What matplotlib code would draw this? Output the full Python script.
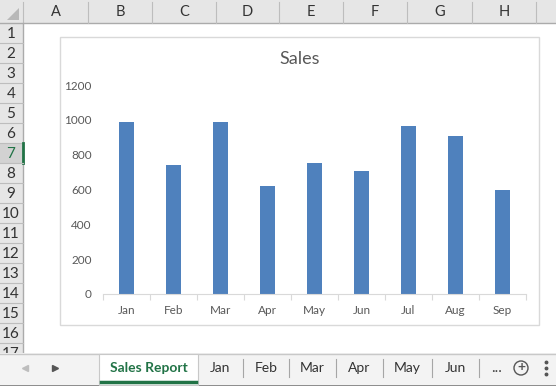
import matplotlib

matplotlib.use("Agg")
import matplotlib.pyplot as plt
from matplotlib.patches import Rectangle, Polygon, Circle

plt.rcParams["font.family"] = ["Lato", "DejaVu Sans"]

# ── data ─────────────────────────────────────────────────────────────────────
months = ["Jan", "Feb", "Mar", "Apr", "May", "Jun", "Jul", "Aug", "Sep"]
sales = [985, 740, 990, 620, 750, 705, 965, 910, 595]
y_ticks = [0, 200, 400, 600, 800, 1000, 1200]

col_letters = ["A", "B", "C", "D", "E", "F", "G", "H"]
sheet_tabs = ["Jan", "Feb", "Mar", "Apr", "May", "Jun"]

W, H = 556, 386
BAR = "#4F81BD"
TXT = "#595959"
GREEN = "#217346"
HDR = "#E6E6E6"
HDR_LINE = "#BDBDBD"

fig = plt.figure(figsize=(W / 100, H / 100), dpi=100)

# ── spreadsheet frame, in pixel coordinates ─────────────────────────────────
bg = fig.add_axes([0, 0, 1, 1])
bg.set_xlim(0, W)
bg.set_ylim(H, 0)
bg.axis("off")

# column header strip
bg.add_patch(Rectangle((0, 0), W, 23, fc=HDR, ec="none"))
bg.plot([0, W], [23, 23], color="#ABABAB", lw=1)
col_edges = [23, 88, 152, 216, 279, 343, 407, 472, 536]
for x in col_edges:
    bg.plot([x, x], [2, 23], color=HDR_LINE, lw=0.8)
for i, letter in enumerate(col_letters):
    cx = (col_edges[i] + col_edges[i + 1]) / 2
    bg.text(cx, 12.5, letter, ha="center", va="center", fontsize=10.5, color="#333333")
# corner triangle
bg.add_patch(Polygon([[19, 8], [19, 20], [7, 20]], closed=True, fc="#B8B8B8", ec="none"))

# row header strip
bg.add_patch(Rectangle((0, 23), 23, H - 23, fc=HDR, ec="none"))
bg.plot([23, 23], [23, H], color="#ABABAB", lw=1)
for r in range(1, 18):
    top = 23 + 20 * (r - 1)
    if r == 7:
        bg.add_patch(Rectangle((0, top), 23, 20, fc="#D2D2D2", ec="none"))
        bg.plot([22.5, 22.5], [top, top + 20], color=GREEN, lw=2)
    bg.plot([0, 23], [top + 20, top + 20], color=HDR_LINE, lw=0.8)
    bg.text(11, top + 10.5, str(r), ha="center", va="center", fontsize=11,
            color=GREEN if r == 7 else "#333333")

# chart area
bg.add_patch(Rectangle((60, 37), 479, 288, fc="white", ec="#D9D9D9", lw=1))
bg.text(299.5, 59, "Sales", ha="center", va="center", fontsize=13, color=TXT)

# sheet tab bar
bg.add_patch(Rectangle((0, 353), W, H - 353, fc="#F3F3F3", ec="none", zorder=5))
bg.plot([0, W], [353.5, 353.5], color="#C8C8C8", lw=1, zorder=6)
bg.plot([0, W], [385.5, 385.5], color="#7A7A7A", lw=1.2, zorder=6)
bg.plot([25], [368], marker="<", ms=4, color="#BDBDBD", zorder=6)
bg.plot([55], [368], marker=">", ms=4, color="#555555", zorder=6)
bg.add_patch(Rectangle((99, 353.5), 99, 31, fc="white", ec="#C8C8C8", lw=0.8, zorder=6))
bg.plot([101, 196], [381.5, 381.5], color=GREEN, lw=2.5, zorder=7)
bg.text(148.5, 368, "Sales Report", ha="center", va="center", fontsize=10,
        fontweight="bold", color=GREEN, zorder=7)
tab_edges = [198, 243, 289, 336, 383, 432, 479]
for i, name in enumerate(sheet_tabs):
    cx = (tab_edges[i] + tab_edges[i + 1]) / 2
    bg.text(cx, 368, name, ha="center", va="center", fontsize=10, color="#333333", zorder=7)
    bg.plot([tab_edges[i + 1]] * 2, [359, 377], color="#A6A6A6", lw=0.8, zorder=7)
bg.text(497, 368, "...", ha="center", va="center", fontsize=11, color="#444444", zorder=7)
bg.add_patch(Circle((521, 368), 7, fc="none", ec="#555555", lw=1, zorder=7))
bg.text(521, 367.5, "+", ha="center", va="center", fontsize=10, fontweight="bold",
        color="#555555", zorder=8)
bg.plot([546, 546, 546], [362, 368, 374], ls="none", marker="o", ms=1.8,
        color="#555555", zorder=7)

# ── chart ────────────────────────────────────────────────────────────────────
x0, x1 = 103, 526
y0, y1 = 294, 85
ax = fig.add_axes([x0 / W, (H - y0) / H, (x1 - x0) / W, (y0 - y1) / H])
ax.set_facecolor("none")
ax.bar(range(len(months)), sales, width=0.32, color=BAR, zorder=2)
ax.set_xlim(-0.5, len(months) - 0.5)
ax.set_ylim(0, 1200)
ax.set_yticks(y_ticks)
ax.set_xticks(range(len(months)))
ax.set_xticklabels(months)
ax.set_xticks([i - 0.5 for i in range(len(months) + 1)], minor=True)
for s in ("top", "right", "left"):
    ax.spines[s].set_visible(False)
ax.spines["bottom"].set_color("#D9D9D9")
ax.tick_params(axis="x", which="major", length=0, pad=8, labelsize=8.5, labelcolor=TXT)
ax.tick_params(axis="x", which="minor", length=4, color="#D9D9D9", width=0.8)
ax.tick_params(axis="y", length=0, pad=8, labelsize=8.5, labelcolor=TXT)

fig.savefig("out.png", dpi=100)
